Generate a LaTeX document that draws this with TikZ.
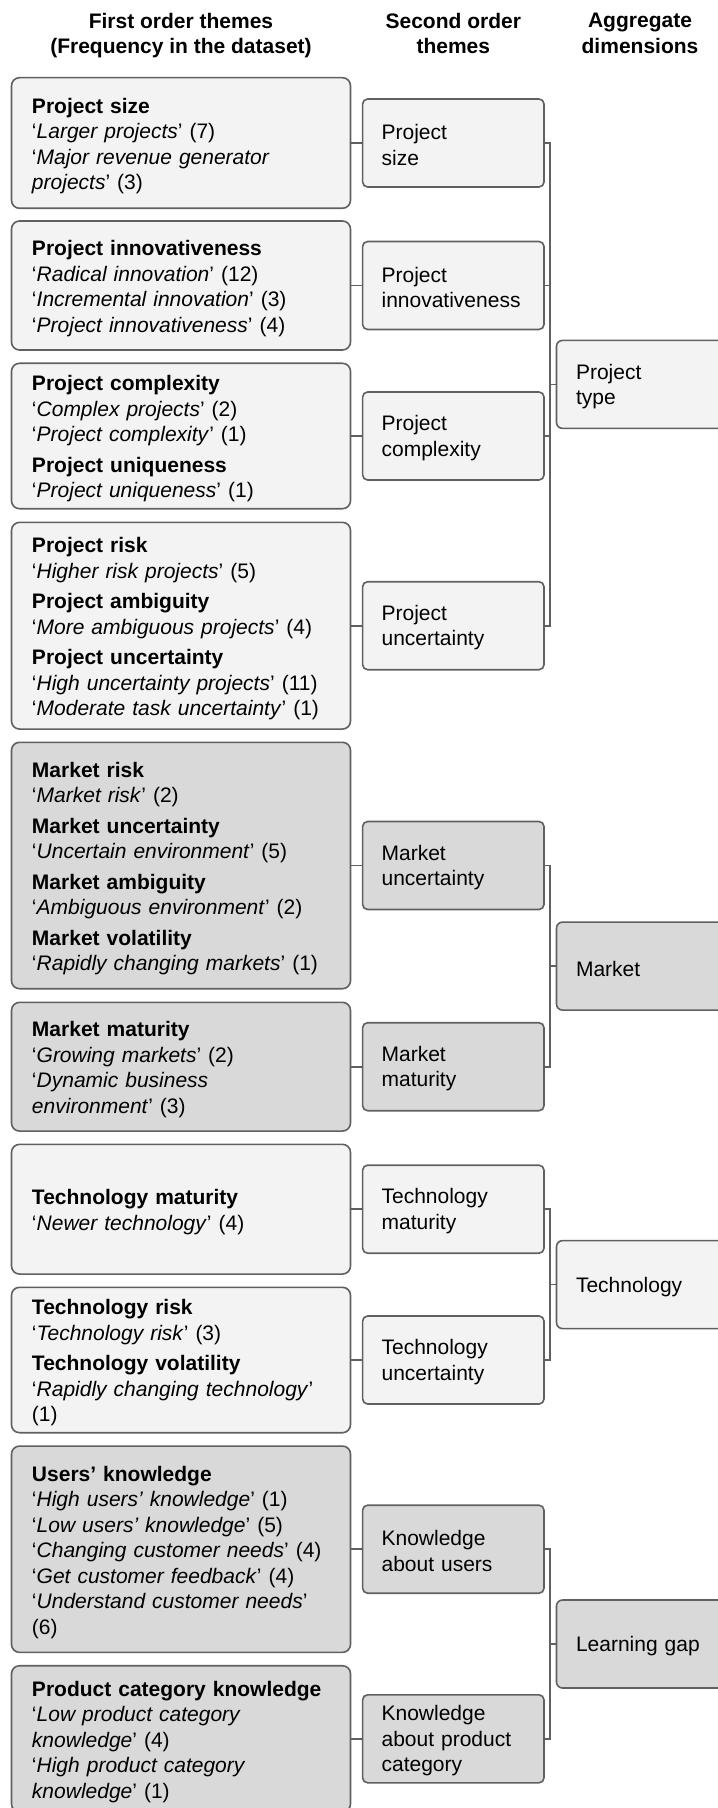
\documentclass[tikz,border=0pt]{standalone}
\usepackage{fontspec}
\setmainfont{Liberation Sans}
\definecolor{boxline}{HTML}{606060}
\definecolor{palefill}{HTML}{F3F3F3}
\definecolor{darkfill}{HTML}{D9D9D9}
\newcommand{\hd}[1]{\textbf{#1}}
\newcommand{\qt}[1]{‘\textit{#1}’}
\tikzset{
  head/.style={font=\fontsize{10.5}{12.9}\selectfont\bfseries,align=center,anchor=north,inner sep=0pt},
  first/.style={draw=boxline,line width=0.8pt,rounded corners=4pt,align=left,
    text width=149pt,inner xsep=10.25pt,inner ysep=0pt,minimum height=#1*0.5pt,
    execute at begin node=\rule{0pt}{10.6pt}},
  second/.style={draw=boxline,line width=0.8pt,rounded corners=2.5pt,align=left,
    text width=71.7pt,inner xsep=9.5pt,inner ysep=0pt,minimum height=44pt,
    execute at begin node=\rule{0pt}{9.6pt}},
  third/.style={draw=boxline,line width=0.8pt,rounded corners=3pt,align=left,
    text width=64.25pt,inner xsep=9.75pt,inner ysep=0pt,minimum height=44pt,
    execute at begin node=\rule{0pt}{10pt}},
  pale/.style={fill=palefill},
  dark/.style={fill=darkfill},
  link/.style={draw=boxline,line width=0.8pt}
}
\begin{document}
\begin{tikzpicture}[x=0.5pt,y=-0.5pt,font=\fontsize{10.5}{12.75}\selectfont]
	\useasboundingbox (0,0) rectangle (717,1808);
	\node[head] (hfirst) at (181,12.5) {First order themes\\(Frequency in the dataset)};
	\node[head] (hsecond) at (453.3,12.5) {Second order\\themes};
	\node[head] (hagg) at (640,13) {Aggregate\\dimensions};

	\node[first=130.6,pale] (fsize) at (181,143) {\hd{Project size}\\\qt{Larger projects} (7)\\\qt{Major revenue generator\\projects} (3)};
	\node[first=129,pale] (finno) at (181,285.5) {\hd{Project innovativeness}\\\qt{Radical innovation} (12)\\\qt{Incremental innovation} (3)\\\qt{Project innovativeness} (4)};
	\node[first=145.4,pale] (fcomp) at (181,436) {\hd{Project complexity}\\\qt{Complex projects} (2)\\\qt{Project complexity} (1)\\[2.5pt]\hd{Project uniqueness}\\\qt{Project uniqueness} (1)};
	\node[first=206.7,pale] (func) at (181,625.7) {\hd{Project risk}\\\qt{Higher risk projects} (5)\\[2.5pt]\hd{Project ambiguity}\\\qt{More ambiguous projects} (4)\\[2.5pt]\hd{Project uncertainty}\\\qt{High uncertainty projects} (11)\\\qt{Moderate task uncertainty} (1)};
	\node[first=246.4,dark] (fmunc) at (181,865.5) {\hd{Market risk}\\\qt{Market risk} (2)\\[2.5pt]\hd{Market uncertainty}\\\qt{Uncertain environment} (5)\\[2.5pt]\hd{Market ambiguity}\\\qt{Ambiguous environment} (2)\\[2.5pt]\hd{Market volatility}\\\qt{Rapidly changing markets} (1)};
	\node[first=128.7,dark] (fmmat) at (181,1066.7) {\hd{Market maturity}\\\qt{Growing markets} (2)\\\qt{Dynamic business\\environment} (3)};
	\node[first=129.7,pale] (ftmat) at (181,1209.2) {\hd{Technology maturity}\\\qt{Newer technology} (4)};
	\node[first=145.4,pale] (ftunc) at (181,1360) {\hd{Technology risk}\\\qt{Technology risk} (3)\\[2.5pt]\hd{Technology volatility}\\\qt{Rapidly changing technology}\\(1)};
	\node[first=206.3,dark] (fusers) at (181,1549.2) {\hd{Users’ knowledge}\\\qt{High users’ knowledge} (1)\\\qt{Low users’ knowledge} (5)\\\qt{Changing customer needs} (4)\\\qt{Get customer feedback} (4)\\\qt{Understand customer needs}\\(6)};
	\node[first=146.2,dark] (fprod) at (181,1738.8) {\hd{Product category knowledge}\\\qt{Low product category\\knowledge} (4)\\\qt{High product category\\knowledge} (1)};

	\node[second,pale] (ssize) at (453.3,143) {Project\\size};
	\node[second,pale] (sinno) at (453.3,285.5) {Project\\innovativeness};
	\node[second,pale] (scomp) at (453.3,436) {Project\\complexity};
	\node[second,pale] (sunc) at (453.3,625.7) {Project\\uncertainty};
	\node[second,dark] (smunc) at (453.3,865.5) {Market\\uncertainty};
	\node[second,dark] (smmat) at (453.3,1066.7) {Market\\maturity};
	\node[second,pale] (stmat) at (453.3,1209.2) {Technology\\maturity};
	\node[second,pale] (stunc) at (453.3,1360) {Technology\\uncertainty};
	\node[second,dark] (susers) at (453.3,1549.2) {Knowledge\\about users};
	\node[second,dark] (sprod) at (453.3,1738.8) {Knowledge\\about product\\category};

	\node[third,pale] (atype) at (640.25,384.4) {Project\\type};
	\node[third,dark] (amarket) at (640.25,966.1) {Market};
	\node[third,pale] (atech) at (640.25,1284.6) {Technology};
	\node[third,dark] (agap) at (640.25,1644) {Learning gap};

	\coordinate (spine) at (550,0);
	\foreach \a/\b in {fsize/ssize,finno/sinno,fcomp/scomp,func/sunc,fmunc/smunc,fmmat/smmat,ftmat/stmat,ftunc/stunc,fusers/susers,fprod/sprod}
		\draw[link] (\a.east) -- (\b.west);
	\foreach \t/\b/\g in {ssize/sunc/atype,smunc/smmat/amarket,stmat/stunc/atech,susers/sprod/agap}{
		\draw[link] (\t.east) -- (\t.east -| spine) -- (\b.east -| spine) -- (\b.east);
		\draw[link] (\g.west -| spine) -- (\g.west);
	}
	\draw[link] (sinno.east) -- (sinno.east -| spine);
	\draw[link] (scomp.east) -- (scomp.east -| spine);
\end{tikzpicture}
\end{document}
